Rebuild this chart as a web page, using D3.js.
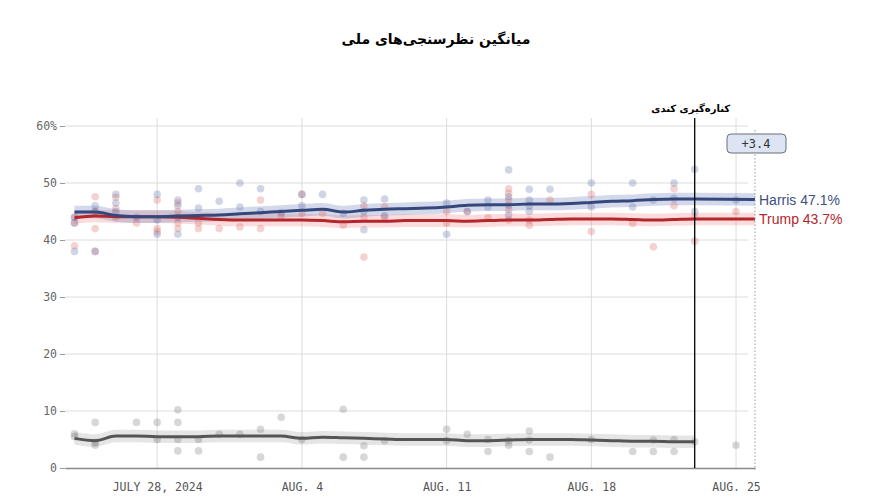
<!DOCTYPE html>
<html>
<head>
<meta charset="utf-8">
<script src="https://cdn.jsdelivr.net/npm/d3@7"></script>
<style>
  body { margin: 0; background: #fff; }
  svg { display: block; }
</style>
</head>
<body>
<svg id="chart" width="872" height="501"></svg>
<script>
// averages by day, starting 2024-07-24 (day 0) up to the cutoff (day 30)
const startDay = new Date(2024, 6, 24);
const harrisAvg = [44.9, 44.9, 44.3, 44.1, 44.1, 44.2, 44.3, 44.4, 44.6, 44.8, 45.0, 45.2, 45.4, 44.9, 45.2, 45.4,
  45.5, 45.6, 45.8, 46.1, 46.2, 46.2, 46.3, 46.3, 46.4, 46.6, 46.8, 46.9, 47.1, 47.2, 47.2];
const trumpAvg = [43.9, 44.2, 44.1, 44.1, 44.1, 44.0, 43.8, 43.6, 43.5, 43.5, 43.5, 43.5, 43.4, 43.2, 43.3, 43.3,
  43.4, 43.4, 43.4, 43.3, 43.4, 43.5, 43.5, 43.6, 43.7, 43.7, 43.7, 43.6, 43.5, 43.6, 43.7];
const otherAvg = [5.2, 4.8, 5.6, 5.6, 5.5, 5.5, 5.5, 5.6, 5.6, 5.6, 5.6, 5.2, 5.4, 5.3, 5.2, 5.1,
  5.0, 5.0, 5.0, 4.8, 4.8, 4.9, 5.0, 5.0, 5.0, 4.9, 4.8, 4.7, 4.7, 4.6, 4.6];

// individual polls: [day, value]
const harrisPolls = [[0,44],[0,43],[0,38],[1,46],[1,45],[1,38],[2,48],[2,46.5],[2,45],[3,44],[4,48],[4,43.5],[4,41],
  [5,47],[5,46],[5,44],[5,41],[6,49],[6,45.6],[7,46.8],[8,50],[8,45.8],[9,49],[9,45],[10,44.8],[11,48],[11,46],
  [12,48],[13,44.7],[14,47],[14,45],[14,41.8],[15,47.2],[15,44.3],[18,46.5],[18,41],[19,45],[20,47],[20,45.8],
  [21,52.3],[21,47.6],[21,46.1],[21,44.4],[22,48.9],[22,47],[22,46],[22,45],[23,48.9],[25,50],[25,45.8],
  [27,50],[27,45.8],[28,47],[29,50],[29,47.3],[30,52.4],[30,45],[32,47]];
const trumpPolls = [[0,43],[0,44],[0,39],[1,47.6],[1,42],[1,38],[1,45],[2,47.5],[2,45.5],[2,44],[3,43],[4,47],[4,42],
  [4,41.5],[5,46.5],[5,45],[5,43],[5,42],[6,43],[6,42],[7,42],[8,42.3],[9,47],[9,42],[10,44.2],[11,48],[11,44.7],
  [12,44.7],[13,42.6],[14,46],[14,44],[14,37],[15,45.8],[15,44],[18,45],[18,43],[19,45],[20,43.9],
  [21,49],[21,48.2],[21,47],[21,45.3],[21,43.5],[22,43.5],[22,42.6],[23,47],[25,48],[25,41.5],[27,42.9],
  [28,38.8],[29,49],[29,46],[30,39.8],[30,44],[32,45]];
const otherPolls = [[0,6],[0,5.5],[1,8],[1,4],[1,4.5],[3,8],[4,8],[4,5],[5,10.2],[5,8],[5,5],[5,3],[6,5],[6,3],
  [7,5.9],[8,5.9],[9,6.8],[9,1.9],[10,8.9],[11,5],[13,10.3],[13,1.9],[14,3.9],[14,1.9],[15,4.8],[18,6.8],[18,4.8],
  [19,5.9],[20,5],[20,2.9],[21,4.8],[21,4],[22,6.5],[22,4.9],[22,2.9],[23,1.9],[25,5],[27,2.9],[28,4.9],[28,2.9],
  [29,5],[29,2.9],[30,4.6],[32,4]];

const bandHalf = 1.1;
const yTicks = [0, 10, 20, 30, 40, 50, 60];
const xTicks = [new Date(2024, 6, 28), new Date(2024, 7, 4), new Date(2024, 7, 11), new Date(2024, 7, 18), new Date(2024, 7, 25)];
const xTickLabels = ["JULY 28, 2024", "AUG. 4", "AUG. 11", "AUG. 18", "AUG. 25"];
const cutoffDate = new Date(2024, 7, 23);
const title = "میانگین نظرسنجی‌های ملی";
const cutoffLabel = "کناره‌گیری کندی";
const marginLabel = "+3.4";
const finalHarris = 47.1, finalTrump = 43.7;

const svg = d3.select("#chart");
const x = d3.scaleTime()
  .domain([new Date(2024, 6, 23, 13), new Date(2024, 7, 25, 22)])
  .range([65, 755]);
const y = d3.scaleLinear().domain([0, 60]).range([468, 126]);
const dayDate = d => d3.timeDay.offset(startDay, d);

// title
svg.append("text")
  .attr("x", 436).attr("y", 44)
  .attr("text-anchor", "middle")
  .attr("direction", "rtl")
  .style("font-family", "DejaVu Sans")
  .style("font-weight", "bold")
  .style("font-size", "14px")
  .text(title);

// grid
const grid = svg.append("g");
grid.selectAll("line.h").data(yTicks.filter(d => d > 0)).join("line")
  .attr("x1", 65).attr("x2", 748)
  .attr("y1", d => y(d)).attr("y2", d => y(d))
  .attr("stroke", "#dcdcdc");
grid.selectAll("line.v").data(xTicks).join("line")
  .attr("x1", d => x(d)).attr("x2", d => x(d))
  .attr("y1", 118).attr("y2", 468)
  .attr("stroke", "#dcdcdc");

// y axis
const yAxis = svg.append("g")
  .attr("transform", "translate(65,0)")
  .call(d3.axisLeft(y).tickValues(yTicks).tickSize(5).tickPadding(3)
    .tickFormat(d => d === 60 ? "60%" : d));
yAxis.select(".domain").remove();
yAxis.selectAll(".tick line").attr("stroke", "#999");
yAxis.selectAll("text")
  .style("font-family", "DejaVu Sans Mono")
  .style("font-size", "11.5px")
  .attr("fill", "#666");

// x axis
const xAxis = svg.append("g")
  .attr("transform", "translate(0,468)")
  .call(d3.axisBottom(x).tickValues(xTicks).tickSize(0).tickPadding(15)
    .tickFormat((d, i) => xTickLabels[i]));
xAxis.select(".domain").attr("stroke", "#888").attr("stroke-width", 1.5);
xAxis.selectAll("text")
  .style("font-family", "DejaVu Sans Mono")
  .style("font-size", "11.5px")
  .attr("fill", "#555");

// bands
const withEnd = arr => arr.map((v, i) => ({ date: dayDate(i), v }));
const harrisSeries = withEnd(harrisAvg).concat([{ date: x.domain()[1], v: finalHarris }]);
const trumpSeries = withEnd(trumpAvg).concat([{ date: x.domain()[1], v: finalTrump }]);
const otherSeries = withEnd(otherAvg);

const area = d3.area().x(d => x(d.date)).y0(d => y(d.v - bandHalf)).y1(d => y(d.v + bandHalf)).curve(d3.curveMonotoneX);
const line = d3.line().x(d => x(d.date)).y(d => y(d.v)).curve(d3.curveMonotoneX);

svg.append("path").datum(otherSeries).attr("d", area).attr("fill", "rgba(150,150,150,0.25)");
svg.append("path").datum(trumpSeries).attr("d", area).attr("fill", "rgba(240,110,110,0.25)");
svg.append("path").datum(harrisSeries).attr("d", area).attr("fill", "rgba(110,130,185,0.3)");

// poll dots
function dots(data, color) {
  svg.append("g").selectAll("circle").data(data).join("circle")
    .attr("cx", d => x(dayDate(d[0])))
    .attr("cy", d => y(d[1]))
    .attr("r", 3.8)
    .attr("fill", color);
}
dots(otherPolls, "rgba(110,110,110,0.28)");
dots(trumpPolls, "rgba(215,95,95,0.28)");
dots(harrisPolls, "rgba(85,105,160,0.28)");

// average lines
svg.append("path").datum(otherSeries).attr("d", line).attr("fill", "none").attr("stroke", "#555").attr("stroke-width", 3);
svg.append("path").datum(trumpSeries).attr("d", line).attr("fill", "none").attr("stroke", "#b3262b").attr("stroke-width", 3);
svg.append("path").datum(harrisSeries).attr("d", line).attr("fill", "none").attr("stroke", "#34487c").attr("stroke-width", 3);

// cutoff
svg.append("line")
  .attr("x1", x(cutoffDate)).attr("x2", x(cutoffDate))
  .attr("y1", 118).attr("y2", 468)
  .attr("stroke", "#000").attr("stroke-width", 1.3);
svg.append("text")
  .attr("x", x(cutoffDate) - 4).attr("y", 112)
  .attr("text-anchor", "middle")
  .attr("direction", "rtl")
  .style("font-family", "DejaVu Sans")
  .style("font-weight", "bold")
  .style("font-size", "10px")
  .text(cutoffLabel);

// end marker
const xEnd = x.domain()[1];
svg.append("line")
  .attr("x1", x(xEnd)).attr("x2", x(xEnd))
  .attr("y1", 130).attr("y2", 470)
  .attr("stroke", "#999").attr("stroke-dasharray", "1.5,2");
svg.append("rect")
  .attr("x", 727).attr("y", 134).attr("width", 59).attr("height", 19).attr("rx", 4)
  .attr("fill", "#dde4f3").attr("stroke", "#6b6f78").attr("stroke-width", 1);
svg.append("text")
  .attr("x", 756).attr("y", 148)
  .attr("text-anchor", "middle")
  .style("font-family", "DejaVu Sans Mono")
  .style("font-size", "12px")
  .attr("fill", "#333")
  .text(marginLabel);

svg.append("text")
  .attr("x", 759).attr("y", y(finalHarris) + 5)
  .style("font-family", "Liberation Sans")
  .style("font-size", "14px")
  .attr("fill", "#3f5080")
  .text("Harris " + finalHarris + "%");
svg.append("text")
  .attr("x", 759).attr("y", y(finalTrump) + 5)
  .style("font-family", "Liberation Sans")
  .style("font-size", "14px")
  .attr("fill", "#b3262b")
  .text("Trump " + finalTrump + "%");
</script>
</body>
</html>
